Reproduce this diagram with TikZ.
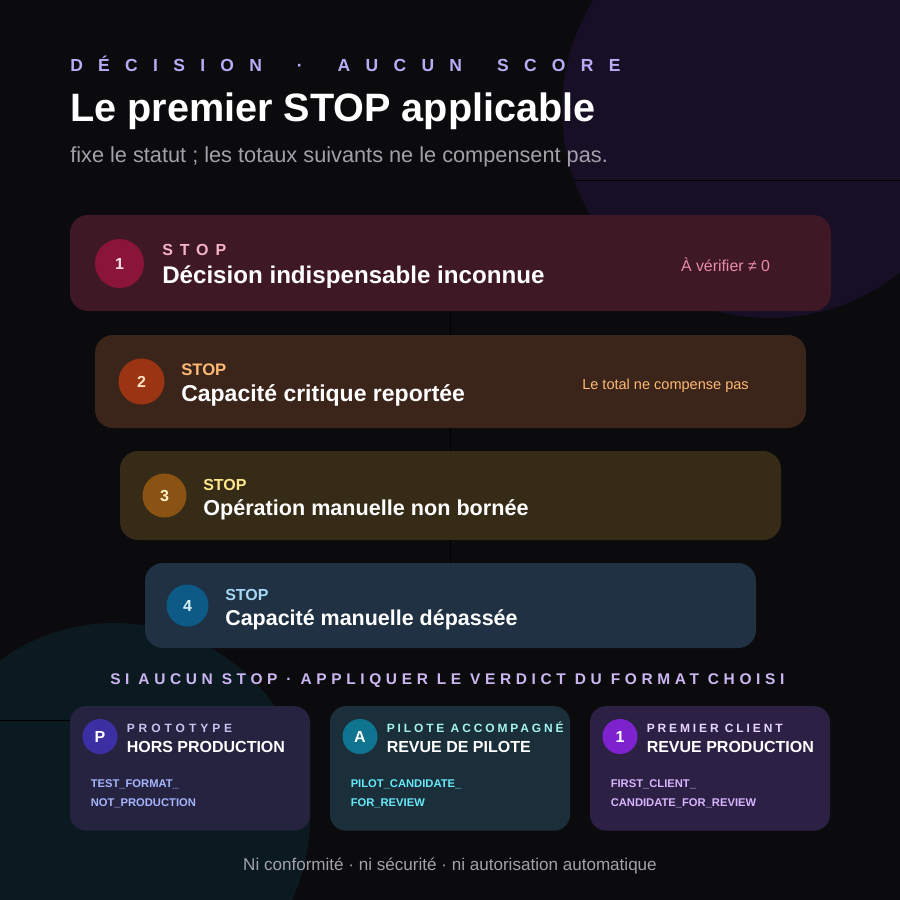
\documentclass[tikz,border=0pt]{standalone}
\usepackage{fontspec}
\setmainfont{Liberation Sans}

\definecolor{pagebg}{HTML}{0B0B0D}
\definecolor{glowviolet}{HTML}{170F26}
\definecolor{glowteal}{HTML}{0B1A20}
\definecolor{kicker}{HTML}{B7ACF5}
\definecolor{subgray}{HTML}{A1A1AA}
\definecolor{rowlabel}{HTML}{CBB6F2}
% stop cards
\definecolor{wineBg}{HTML}{3F1826}
\definecolor{wineDot}{HTML}{8B1538}
\definecolor{wineTxt}{HTML}{F7B3C6}
\definecolor{wineNote}{HTML}{E98AA6}
\definecolor{rustBg}{HTML}{3B241A}
\definecolor{rustDot}{HTML}{9A3412}
\definecolor{rustTxt}{HTML}{FDBA74}
\definecolor{ochreBg}{HTML}{362B17}
\definecolor{ochreDot}{HTML}{8A5313}
\definecolor{ochreTxt}{HTML}{FDE68A}
\definecolor{steelBg}{HTML}{1F3143}
\definecolor{steelDot}{HTML}{0C5A85}
\definecolor{steelTxt}{HTML}{A5D8F5}
% format cards
\definecolor{indigoBg}{HTML}{25233F}
\definecolor{indigoDot}{HTML}{3B2FA3}
\definecolor{indigoTxt}{HTML}{C7C2F0}
\definecolor{indigoCode}{HTML}{A5B4FC}
\definecolor{tealBg}{HTML}{1A2F3A}
\definecolor{tealDot}{HTML}{0E7490}
\definecolor{tealTxt}{HTML}{A5F3F0}
\definecolor{tealCode}{HTML}{67E8F9}
\definecolor{plumBg}{HTML}{2C2144}
\definecolor{plumDot}{HTML}{7E22CE}
\definecolor{plumTxt}{HTML}{E9D5FF}
\definecolor{plumCode}{HTML}{D8B4FE}

\newcommand{\tracked}[2]{{\addfontfeature{LetterSpace=#1}#2}}
% one kern after every letter of a word
\newcommand{\spaced}[2]{\def\spacegap{#1}\spacedloop#2\relax}
\def\spacedloop#1{\ifx#1\relax\else#1\kern\spacegap\expandafter\spacedloop\fi}

\tikzset{
	stopcard/.style={rectangle, rounded corners=13.5pt, inner sep=0pt},
	fmtcard/.style={rectangle, rounded corners=12pt, inner sep=0pt, minimum width=180pt, minimum height=93.4pt},
	badge/.style={circle, inner sep=0pt, text=white, font=\bfseries\fontsize{12}{14}\selectfont},
	txt/.style={anchor=base west, inner sep=0pt},
	stoptag/.style={txt, font=\bfseries\fontsize{12}{14}\selectfont},
	stoptitle/.style={txt, text=white, font=\bfseries\fontsize{17}{20}\selectfont},
	note/.style={anchor=base, inner sep=0pt, font=\fontsize{11}{13}\selectfont},
	fmttag/.style={txt, font=\bfseries\fontsize{9}{11}\selectfont},
	fmttitle/.style={txt, text=white, font=\bfseries\fontsize{12}{14}\selectfont},
	fmtcode/.style={txt, font=\bfseries\fontsize{8.4}{10}\selectfont},
	guide/.style={draw=black, line width=0.75pt},
}

\begin{document}
\begin{tikzpicture}[x=0.75pt, y=-0.75pt]
	\useasboundingbox (0,0) rectangle (900,900);
	\fill[pagebg] (0,0) rectangle (900,900);
	% background glows
	\fill[glowviolet] (770,110) circle (208);
	\fill[glowteal] (115,818) circle (195);
	\begin{scope}
		\clip (770,110) circle (208);
		\draw[guide] (0,180) -- (900,180);
	\end{scope}
	\begin{scope}
		\clip (115,818) circle (195);
		\draw[guide] (0,720) -- (900,720);
	\end{scope}

	% header
	\node[txt, text=kicker, font=\bfseries\fontsize{13.1}{15}\selectfont] (kicker) at (70,71.7) {\spaced{11.5pt}{DÉCISION}\hspace{14.7pt}\spaced{11.5pt}{·}\hspace{14.7pt}\spaced{11.5pt}{AUCUN}\hspace{14.7pt}\spaced{11.5pt}{SCORE}};
	\node[txt, text=white, font=\bfseries\fontsize{29.7}{34}\selectfont] (title) at (70,121.7) {Le premier STOP applicable};
	\node[txt, text=subgray, font=\fontsize{16.3}{19}\selectfont] (subtitle) at (70,162.7) {fixe le statut ; les totaux suivants ne le compensent pas.};

	% stop cards
	\node[stopcard, fill=wineBg, minimum width=761*0.75pt, minimum height=96*0.75pt] (stop1) at (450.5,263) {};
	\node[stopcard, fill=rustBg, minimum width=711*0.75pt, minimum height=93*0.75pt] (stop2) at (450.5,381.5) {};
	\node[stopcard, fill=ochreBg, minimum width=661*0.75pt, minimum height=89*0.75pt] (stop3) at (450.5,495.5) {};
	\node[stopcard, fill=steelBg, minimum width=611*0.75pt, minimum height=85*0.75pt] (stop4) at (450.5,605.5) {};
	\draw[guide] (stop1.south) -- (stop2.north);
	\draw[guide] (stop2.south) -- (stop3.north);
	\draw[guide] (stop3.south) -- (stop4.north);

	\node[badge, fill=wineDot, minimum size=49*0.75pt, text=wineTxt!40!white] (dot1) at (119.5,263.5) {1};
	\node[stoptag, text=wineTxt] (tag1) at (162,255) {\tracked{43}{STOP}};
	\node[stoptitle, font=\bfseries\fontsize{18.1}{21}\selectfont] (name1) at (162,283.3) {Décision indispensable inconnue};
	\node[note, text=wineNote, font=\fontsize{11.9}{14}\selectfont] (note1) at (725.5,271.7) {À vérifier ≠ 0};

	\node[badge, fill=rustDot, minimum size=46*0.75pt, text=rustTxt!40!white] (dot2) at (141.5,381.5) {2};
	\node[stoptag, text=rustTxt, font=\bfseries\fontsize{12.5}{14}\selectfont] (tag2) at (181,375) {STOP};
	\node[stoptitle, font=\bfseries\fontsize{17.25}{20}\selectfont] (name2) at (181,401.7) {Capacité critique reportée};
	\node[note, text=rustTxt, font=\fontsize{10.9}{13}\selectfont] (note2) at (665.5,389) {Le total ne compense pas};

	\node[badge, fill=ochreDot, minimum size=44*0.75pt, text=ochreTxt!50!white] (dot3) at (164.5,495.5) {3};
	\node[stoptag, text=ochreTxt] (tag3) at (203,490) {STOP};
	\node[stoptitle, font=\bfseries\fontsize{16.2}{19}\selectfont] (name3) at (203,515.7) {Opération manuelle non bornée};

	\node[badge, fill=steelDot, minimum size=42*0.75pt, text=steelTxt!40!white] (dot4) at (187.5,605.5) {4};
	\node[stoptag, text=steelTxt] (tag4) at (225,600) {STOP};
	\node[stoptitle, font=\bfseries\fontsize{16.1}{19}\selectfont] (name4) at (225,625.3) {Capacité manuelle dépassée};

	% fallback formats
	\node[txt, text=rowlabel, font=\bfseries\fontsize{11.6}{13}\selectfont] (rowlabel) at (110,684) {\tracked{30}{SI AUCUN STOP · APPLIQUER LE VERDICT DU FORMAT CHOISI}};

	\node[fmtcard, fill=indigoBg] (proto) at (190,768.4) {};
	\node[badge, fill=indigoDot, minimum size=35*0.75pt] (dotP) at (100,736.5) {P};
	\node[fmttag, text=indigoTxt] (tagP) at (126.5,732.7) {\tracked{33}{PROTOTYPE}};
	\node[fmttitle] (nameP) at (126.5,752.7) {HORS PRODUCTION};
	\node[fmtcode, text=indigoCode] (codeP1) at (90.5,787.7) {TEST\_FORMAT\_};
	\node[fmtcode, text=indigoCode] (codeP2) at (90.5,806.7) {NOT\_PRODUCTION};

	\node[fmtcard, fill=tealBg] (pilot) at (450,768.4) {};
	\node[badge, fill=tealDot, minimum size=35*0.75pt] (dotA) at (360,736.5) {A};
	\node[fmttag, text=tealTxt] (tagA) at (386.5,732.7) {\tracked{24}{PILOTE ACCOMPAGNÉ}};
	\node[fmttitle] (nameA) at (386.5,752.7) {REVUE DE PILOTE};
	\node[fmtcode, text=tealCode] (codeA1) at (350.5,787.7) {PILOT\_CANDIDATE\_};
	\node[fmtcode, text=tealCode] (codeA2) at (350.5,806.7) {FOR\_REVIEW};

	\node[fmtcard, fill=plumBg] (client) at (710,768.4) {};
	\node[badge, fill=plumDot, minimum size=35*0.75pt] (dotC) at (620,736.5) {1};
	\node[fmttag, text=plumTxt] (tagC) at (646.5,732.7) {\tracked{24}{PREMIER CLIENT}};
	\node[fmttitle] (nameC) at (646.5,752.7) {REVUE PRODUCTION};
	\node[fmtcode, text=plumCode] (codeC1) at (610.5,787.7) {FIRST\_CLIENT\_};
	\node[fmtcode, text=plumCode] (codeC2) at (610.5,806.7) {CANDIDATE\_FOR\_REVIEW};

	% footer
	\node[anchor=base, inner sep=0pt, text=subgray, font=\fontsize{12.8}{15}\selectfont] (footer) at (450,870) {Ni conformité · ni sécurité · ni autorisation automatique};
\end{tikzpicture}
\end{document}
